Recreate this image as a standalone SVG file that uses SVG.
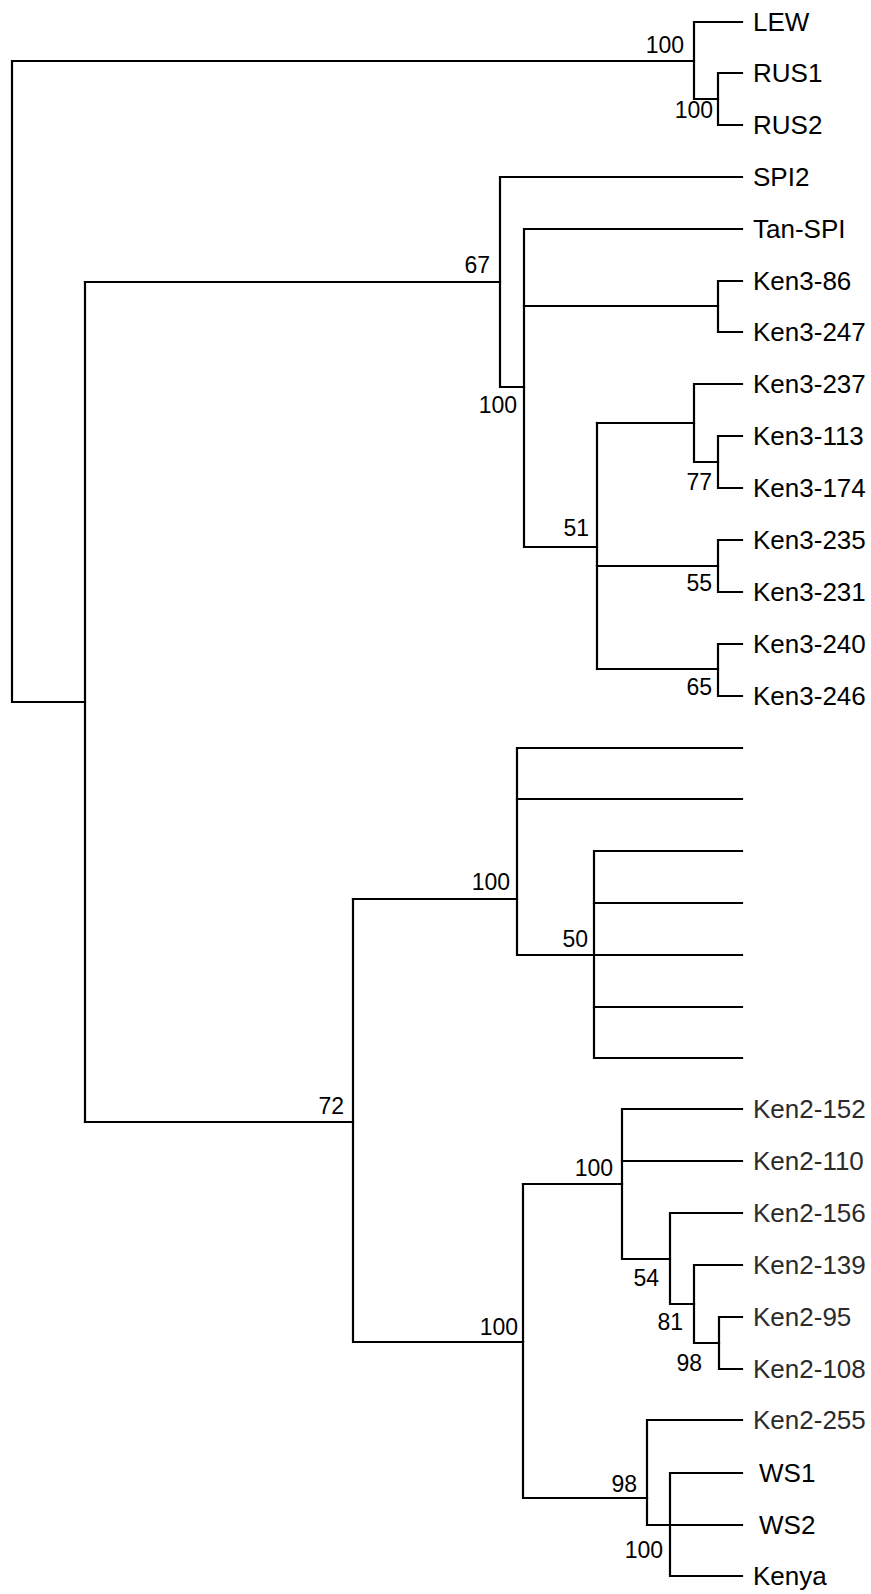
<svg xmlns="http://www.w3.org/2000/svg" width="871" height="1594" viewBox="0 0 871 1594">
<style>
.c{fill:none;stroke:#000;stroke-width:2.2;stroke-linecap:square;stroke-linejoin:miter}
.leaf{font-family:"Liberation Sans",Arial,sans-serif;font-size:26px;fill:#000}
.light{fill:#2b2b2b}
.bs{font-family:"Liberation Sans",Arial,sans-serif;font-size:23px;fill:#000;text-anchor:end}
</style>
<rect width="871" height="1594" fill="#fff"/>
<g id="connectors">
<path class="c" d="M694,61 H12 V702 H85"/>
<path class="c" d="M742,22 H694 V99 H718"/>
<path class="c" d="M742,73 H718 V125 H742"/>
<path class="c" d="M85,282 V1122"/>
<path class="c" d="M85,282 H500"/>
<path class="c" d="M742,177 H500 V387 H524"/>
<path class="c" d="M742,229 H524 V547 H597"/>
<path class="c" d="M524,306 H718"/>
<path class="c" d="M742,281 H718 V332 H742"/>
<path class="c" d="M597,423 V669"/>
<path class="c" d="M742,384 H694 V462 H718"/>
<path class="c" d="M597,423 H694"/>
<path class="c" d="M742,436 H718 V488 H742"/>
<path class="c" d="M597,566 H718"/>
<path class="c" d="M742,540 H718 V592 H742"/>
<path class="c" d="M597,669 H718"/>
<path class="c" d="M742,644 H718 V696 H742"/>
<path class="c" d="M85,1122 H353"/>
<path class="c" d="M353,899 V1342 H523"/>
<path class="c" d="M353,899 H517"/>
<path class="c" d="M742,748 H517 V955 H742"/>
<path class="c" d="M517,799 H742"/>
<path class="c" d="M742,851 H594 V1058 H742"/>
<path class="c" d="M594,903 H742"/>
<path class="c" d="M594,1007 H742"/>
<path class="c" d="M523,1184 V1498 H647"/>
<path class="c" d="M523,1184 H622"/>
<path class="c" d="M742,1109 H622 V1259 H670"/>
<path class="c" d="M622,1161 H742"/>
<path class="c" d="M742,1213 H670 V1304 H694"/>
<path class="c" d="M742,1265 H694 V1343 H719"/>
<path class="c" d="M742,1317 H719 V1369 H742"/>
<path class="c" d="M742,1420 H647 V1525 H742"/>
<path class="c" d="M742,1473 H670 V1576 H742"/>
</g>
<g id="leaf-LEW"><text class="leaf" x="753" y="31">LEW</text></g>
<g id="leaf-RUS1"><text class="leaf" x="753" y="82">RUS1</text></g>
<g id="leaf-RUS2"><text class="leaf" x="753" y="134">RUS2</text></g>
<g id="leaf-SPI2"><text class="leaf" x="753" y="186">SPI2</text></g>
<g id="leaf-Tan-SPI"><text class="leaf" x="753" y="238">Tan-SPI</text></g>
<g id="leaf-Ken3-86"><text class="leaf" x="753" y="290">Ken3-86</text></g>
<g id="leaf-Ken3-247"><text class="leaf" x="753" y="341">Ken3-247</text></g>
<g id="leaf-Ken3-237"><text class="leaf" x="753" y="393">Ken3-237</text></g>
<g id="leaf-Ken3-113"><text class="leaf" x="753" y="445">Ken3-113</text></g>
<g id="leaf-Ken3-174"><text class="leaf" x="753" y="497">Ken3-174</text></g>
<g id="leaf-Ken3-235"><text class="leaf" x="753" y="549">Ken3-235</text></g>
<g id="leaf-Ken3-231"><text class="leaf" x="753" y="601">Ken3-231</text></g>
<g id="leaf-Ken3-240"><text class="leaf" x="753" y="653">Ken3-240</text></g>
<g id="leaf-Ken3-246"><text class="leaf" x="753" y="705">Ken3-246</text></g>
<g id="leaf-Ken2-152"><text class="leaf light" x="753" y="1118">Ken2-152</text></g>
<g id="leaf-Ken2-110"><text class="leaf light" x="753" y="1170">Ken2-110</text></g>
<g id="leaf-Ken2-156"><text class="leaf light" x="753" y="1222">Ken2-156</text></g>
<g id="leaf-Ken2-139"><text class="leaf light" x="753" y="1274">Ken2-139</text></g>
<g id="leaf-Ken2-95"><text class="leaf light" x="753" y="1326">Ken2-95</text></g>
<g id="leaf-Ken2-108"><text class="leaf light" x="753" y="1378">Ken2-108</text></g>
<g id="leaf-Ken2-255"><text class="leaf light" x="753" y="1429">Ken2-255</text></g>
<g id="leaf-WS1"><text class="leaf" x="759" y="1482">WS1</text></g>
<g id="leaf-WS2"><text class="leaf" x="759" y="1534">WS2</text></g>
<g id="leaf-Kenya"><text class="leaf" x="753" y="1585">Kenya</text></g>
<g id="node-lew"><text class="bs" x="684" y="53">100</text></g>
<g id="node-rus"><text class="bs" x="713" y="118">100</text></g>
<g id="node-67"><text class="bs" x="490" y="273">67</text></g>
<g id="node-ken3"><text class="bs" x="517" y="413">100</text></g>
<g id="node-51"><text class="bs" x="589" y="536">51</text></g>
<g id="node-77"><text class="bs" x="712" y="490">77</text></g>
<g id="node-55"><text class="bs" x="712" y="591">55</text></g>
<g id="node-65"><text class="bs" x="712" y="695">65</text></g>
<g id="node-unl"><text class="bs" x="510" y="890">100</text></g>
<g id="node-50"><text class="bs" x="588" y="947">50</text></g>
<g id="node-72"><text class="bs" x="344" y="1114">72</text></g>
<g id="node-ken2"><text class="bs" x="613" y="1176">100</text></g>
<g id="node-54"><text class="bs" x="659" y="1286">54</text></g>
<g id="node-81"><text class="bs" x="683" y="1330">81</text></g>
<g id="node-98a"><text class="bs" x="702" y="1371">98</text></g>
<g id="node-lower"><text class="bs" x="518" y="1335">100</text></g>
<g id="node-98b"><text class="bs" x="637" y="1492">98</text></g>
<g id="node-ws"><text class="bs" x="663" y="1558">100</text></g>
</svg>
